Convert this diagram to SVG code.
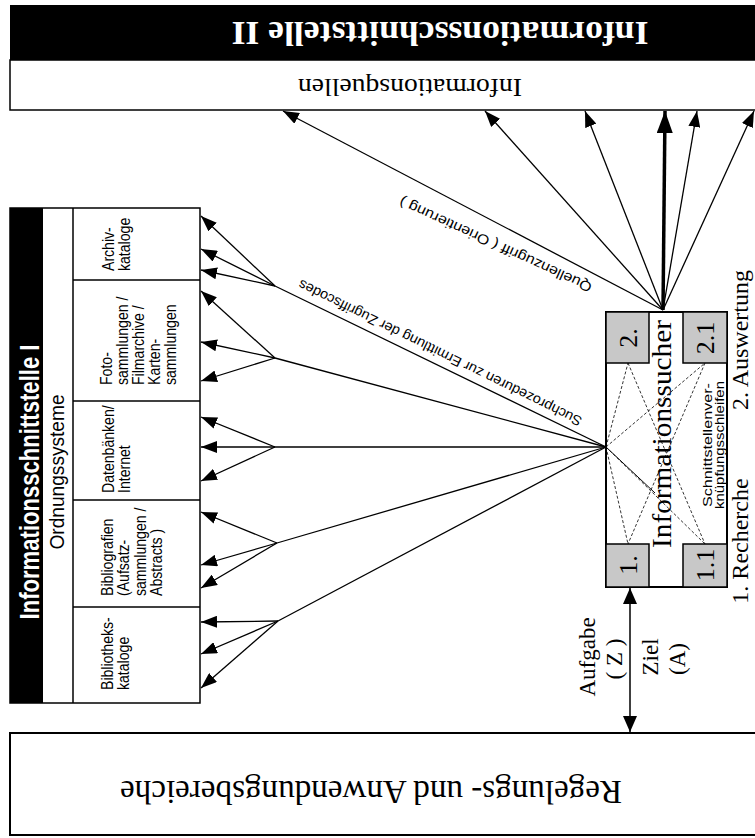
<svg xmlns="http://www.w3.org/2000/svg" width="755" height="838" viewBox="0 0 755 838">
<defs>
<style>
.ln{stroke:#000;stroke-width:1.3;fill:none}
.ar{marker-end:url(#ah)}
.box{fill:#fff;stroke:#000;stroke-width:2}
.serif{font-family:"Liberation Serif","Times New Roman",serif}
.sans{font-family:"Liberation Sans",Arial,sans-serif}
.cell{font-family:"Liberation Sans",Arial,sans-serif;font-size:16px;fill:#000}
.grey{fill:#c8c8c8;stroke:#000;stroke-width:1.5}
.dash{stroke:#000;stroke-width:0.8;stroke-dasharray:3 2;fill:none}
</style>
<marker id="ah" viewBox="0 0 16 12" refX="16" refY="6" markerWidth="16" markerHeight="12" markerUnits="userSpaceOnUse" orient="auto">
<path d="M0,0 L16,6 L0,12 z" fill="#000"/>
</marker>
<marker id="ahb" viewBox="0 0 22 16" refX="22" refY="8" markerWidth="22" markerHeight="16" markerUnits="userSpaceOnUse" orient="auto">
<path d="M0,0 L22,8 L0,16 z" fill="#000"/>
</marker>
<marker id="ahd" viewBox="0 0 16 14" refX="16" refY="7" markerWidth="16" markerHeight="14" markerUnits="userSpaceOnUse" orient="auto-start-reverse">
<path d="M0,0 L16,7 L0,14 z" fill="#000"/>
</marker>
</defs>
<rect width="755" height="838" fill="#fff"/>

<g id="schnittstelle2">
<rect x="10" y="5" width="755" height="55" fill="#000"/>
<text class="serif" x="440" y="22" font-size="34" font-weight="bold" fill="#fff" text-anchor="middle" textLength="417" lengthAdjust="spacingAndGlyphs" transform="rotate(180 440 22)">Informationsschnittstelle II</text>
</g>
<g id="informationsquellen">
<rect x="10" y="60" width="755" height="50" fill="#fff" stroke="#000" stroke-width="1.5"/>
<text class="serif" x="410" y="79" font-size="26" text-anchor="middle" textLength="224" lengthAdjust="spacingAndGlyphs" transform="rotate(180 410 79)">Informationsquellen</text>
</g>

<g id="schnittstelle1">
<rect x="10" y="208" width="190" height="495" fill="#fff" stroke="#000" stroke-width="1.5"/>
<rect x="10" y="208" width="33" height="495" fill="#000"/>
<text class="sans" font-size="27" font-weight="bold" fill="#fff" text-anchor="middle" textLength="275" lengthAdjust="spacingAndGlyphs" transform="translate(39,482) rotate(-90)">Informationsschnittstelle I</text>
</g>
<g id="ordnungssysteme">
<line x1="73" y1="208" x2="73" y2="703" stroke="#000" stroke-width="1.5"/>
<text class="sans" font-size="20" text-anchor="middle" textLength="155" lengthAdjust="spacingAndGlyphs" transform="translate(64,472) rotate(-90)">Ordnungssysteme</text>
</g>
<g id="archivkataloge">
<g transform="translate(0,271) rotate(-90) scale(0.88,1)" class="cell"><text y="114">Archiv-</text><text y="130">kataloge</text></g>
</g>
<g id="fotosammlungen">
<line x1="73" y1="280" x2="200" y2="280" stroke="#000" stroke-width="1.5"/>
<g transform="translate(0,385) rotate(-90) scale(0.88,1)" class="cell"><text y="112">Foto-</text><text y="128">sammlungen /</text><text y="144">Filmarchive /</text><text y="160">Karten-</text><text y="176">sammlungen</text></g>
</g>
<g id="datenbanken">
<line x1="73" y1="401" x2="200" y2="401" stroke="#000" stroke-width="1.5"/>
<g transform="translate(0,493) rotate(-90) scale(0.88,1)" class="cell"><text y="114">Datenbänken/</text><text y="130">Internet</text></g>
</g>
<g id="bibliografien">
<line x1="73" y1="500" x2="200" y2="500" stroke="#000" stroke-width="1.5"/>
<g transform="translate(0,596) rotate(-90) scale(0.88,1)" class="cell"><text y="113">Bibliografien</text><text y="129">(Aufsatz-</text><text y="146">sammlungen /</text><text y="162">Abstracts )</text></g>
</g>
<g id="bibliothekskataloge">
<line x1="73" y1="607" x2="200" y2="607" stroke="#000" stroke-width="1.5"/>
<g transform="translate(0,690) rotate(-90) scale(0.88,1)" class="cell"><text y="113">Bibliotheks-</text><text y="129">kataloge</text></g>
</g>

<g id="informationssucher">
<rect class="box" x="606" y="312" width="121" height="275"/>
<line class="dash" x1="606" y1="447" x2="628" y2="363"/>
<line class="dash" x1="606" y1="447" x2="705" y2="363"/>
<line class="dash" x1="606" y1="447" x2="628" y2="544"/>
<line class="dash" x1="606" y1="447" x2="705" y2="544"/>
<line class="dash" x1="628" y1="363" x2="705" y2="544"/>
<line class="dash" x1="705" y1="363" x2="628" y2="544"/>
<line x1="606" y1="447" x2="655" y2="493" stroke="#000" stroke-width="1"/>
<rect class="grey" x="606" y="312" width="43" height="51"/>
<rect class="grey" x="683" y="312" width="44" height="51"/>
<rect class="grey" x="606" y="544" width="43" height="43"/>
<rect class="grey" x="683" y="544" width="44" height="43"/>
<g class="serif" font-size="26" text-anchor="middle">
<text transform="translate(637,338) rotate(-90)">2.</text>
<text transform="translate(714,338) rotate(-90)">2.1</text>
<text transform="translate(637,565) rotate(-90)">1.</text>
<text transform="translate(714,565) rotate(-90)">1.1</text>
</g>
<text class="serif" font-size="27" text-anchor="middle" textLength="228" lengthAdjust="spacingAndGlyphs" transform="translate(671,434) rotate(-90)">Informationssucher</text>
<g class="sans" font-size="13" text-anchor="middle">
<text transform="translate(712,445) rotate(-90)" textLength="124" lengthAdjust="spacingAndGlyphs">Schnittstellenver-</text>
<text transform="translate(724,445) rotate(-90)" textLength="128" lengthAdjust="spacingAndGlyphs">knüpfungsschleifen</text>
</g>
</g>

<g id="phasen" class="serif" font-size="24" text-anchor="middle">
<text transform="translate(748,541) rotate(-90)">1. Recherche</text>
<text transform="translate(748,340) rotate(-90)">2. Auswertung</text>
</g>

<g id="regelungsbereiche">
<rect x="10" y="733" width="755" height="102" fill="#fff" stroke="#000" stroke-width="2"/>
<text class="serif" x="371" y="781" font-size="33" text-anchor="middle" textLength="502" lengthAdjust="spacingAndGlyphs" transform="rotate(180 371 781)">Regelungs- und Anwendungsbereiche</text>
</g>

<g id="connectors">
<line class="ln" x1="606" y1="447" x2="275" y2="286"/>
<line class="ln ar" x1="275" y1="286" x2="201" y2="216"/>
<line class="ln ar" x1="275" y1="286" x2="201" y2="249"/>
<line class="ln ar" x1="275" y1="286" x2="201" y2="270"/>
<line class="ln" x1="606" y1="447" x2="275" y2="358"/>
<line class="ln ar" x1="275" y1="358" x2="201" y2="291"/>
<line class="ln ar" x1="275" y1="358" x2="201" y2="342"/>
<line class="ln ar" x1="275" y1="358" x2="201" y2="381"/>
<line class="ln ar" x1="606" y1="447" x2="201" y2="447"/>
<line class="ln ar" x1="275" y1="447" x2="201" y2="417"/>
<line class="ln ar" x1="275" y1="447" x2="201" y2="481"/>
<line class="ln" x1="606" y1="447" x2="277" y2="543"/>
<line class="ln ar" x1="277" y1="543" x2="201" y2="512"/>
<line class="ln ar" x1="277" y1="543" x2="201" y2="565"/>
<line class="ln ar" x1="277" y1="543" x2="201" y2="588"/>
<line class="ln" x1="606" y1="447" x2="278" y2="621"/>
<line class="ln ar" x1="278" y1="621" x2="201" y2="622"/>
<line class="ln ar" x1="278" y1="621" x2="201" y2="654"/>
<line class="ln ar" x1="278" y1="621" x2="201" y2="688"/>

<line class="ln ar" x1="663" y1="310" x2="283" y2="111"/>
<line class="ln ar" x1="663" y1="310" x2="485" y2="111"/>
<line class="ln ar" x1="663" y1="310" x2="585" y2="111"/>
<line x1="663" y1="310" x2="665" y2="111" stroke="#000" stroke-width="3.5" marker-end="url(#ahb)"/>
<line class="ln ar" x1="663" y1="310" x2="697" y2="111"/>
<line class="ln ar" x1="663" y1="310" x2="754" y2="111"/>

<line x1="630" y1="588" x2="630" y2="732" stroke="#000" stroke-width="1.5" marker-start="url(#ahd)" marker-end="url(#ahd)"/>

<text class="sans" x="583" y="418" font-size="14" textLength="314" lengthAdjust="spacingAndGlyphs" transform="rotate(206.2 583 418)">Suchprozeduren zur Ermittlung der Zugriffscodes</text>
<text class="sans" x="593" y="284" font-size="14" textLength="210" lengthAdjust="spacingAndGlyphs" transform="rotate(204.5 593 284)">Quellenzugriff ( Orientierung )</text>

<g class="serif" font-size="23" text-anchor="middle">
<text transform="translate(595,657) rotate(-90)">Aufgabe</text>
<text transform="translate(622,659) rotate(-90)">( Z )</text>
<text transform="translate(658,657) rotate(-90)">Ziel</text>
<text transform="translate(685,659) rotate(-90)">(A)</text>
</g>
</g>
</svg>
